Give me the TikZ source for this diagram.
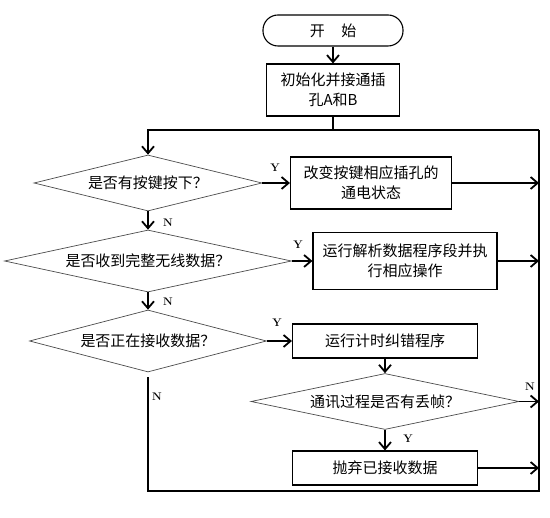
\documentclass[tikz,border=0pt]{standalone}
\usepackage{fontspec}
\newfontfamily\cjk{Noto Sans CJK SC}
\usetikzlibrary{shapes.geometric,arrows.meta}
\begin{document}
\begin{tikzpicture}[x=1pt,y=-1pt,
    stepbox/.style={draw,line width=1.1pt,inner sep=0pt,align=center,font=\cjk\fontsize{15pt}{20pt}\selectfont},
    startbox/.style={stepbox,rounded corners=15pt},
    decision/.style={diamond,draw=black!70,line width=0.7pt,inner sep=0pt,font=\cjk\fontsize{15pt}{20pt}\selectfont},
    link/.style={line width=1.8pt},
    flow/.style={link,-{Straight Barb[length=7pt,width=12pt]}},
    yn/.style={inner sep=0pt,font=\bfseries\fontsize{11pt}{12pt}\selectfont}]
    \newcommand{\loopl}{148}
    \newcommand{\loopr}{539}
    \useasboundingbox[fill=white] (0,0) rectangle (550,518);

    \node[startbox,minimum width=140pt,minimum height=31pt] (start) at (333,30.5) {开\hspace{1.1em}始};
    \node[stepbox,minimum width=133pt,minimum height=52pt] (init) at (333,90) {初始化并接通插\\孔A和B};

    \node[decision,minimum width=228pt,minimum height=56pt,aspect=4.07] (key) at (\loopl,183) {是否有按键按下？};
    \node[stepbox,minimum width=161pt,minimum height=52pt] (power) at (371,183) {改变按键相应插孔的\\通电状态};

    \node[decision,minimum width=287pt,minimum height=62pt,aspect=4.63] (radio) at (\loopl,261) {是否收到完整无线数据？};
    \node[stepbox,minimum width=184pt,minimum height=57pt] (parse) at (405,261) {运行解析数据程序段并执\\行相应操作};

    \node[decision,minimum width=237pt,minimum height=62pt,aspect=3.82] (recv) at (\loopl,341) {是否正在接收数据？};
    \node[stepbox,minimum width=185pt,minimum height=34pt] (timer) at (385,341) {运行计时纠错程序};

    \node[decision,minimum width=268pt,minimum height=56pt,aspect=4.79] (lost) at (385,401.5) {通讯过程是否有丢帧？};
    \node[stepbox,minimum width=185pt,minimum height=34pt] (drop) at (385,468) {抛弃已接收数据};

    \coordinate (tl) at (\loopl,130);
    \coordinate (tr) at (\loopr,130);
    \coordinate (bl) at (\loopl,491);
    \coordinate (br) at (\loopr,491);

    \draw[flow] (start) -- (init);
    \draw[link] (init.south) -- (init.south |- tl);
    \draw[flow] (tr) -- (tl) -- (key.north);
    \draw[link,shorten <=5pt] (recv.south) -- (bl) -- (br) -- (tr);

    \draw[flow] (key.east) -- (power.west);
    \draw[flow] (power.east) -- (power.east -| tr);
    \draw[flow] (key.south) -- (radio.north);
    \draw[flow] (radio.east) -- (parse.west);
    \draw[flow] (parse.east) -- (parse.east -| tr);
    \draw[flow] (radio.south) -- (recv.north);
    \draw[flow] (recv.east) -- (timer.west);
    \draw[flow] (timer.south) -- (lost.north);
    \draw[flow] (lost.east) -- (lost.east -| tr);
    \draw[flow] (lost.south) -- (drop.north);
    \draw[flow] (drop.east) -- (drop.east -| tr);

    \node[yn] (y1) at (275,168) {Y};
    \node[yn] (n1) at (168,223) {N};
    \node[yn] (y2) at (298,245) {Y};
    \node[yn] (n2) at (168,302) {N};
    \node[yn] (y3) at (277,323) {Y};
    \node[yn] (n3) at (157,397) {N};
    \node[yn] (n4) at (530,387) {N};
    \node[yn] (y4) at (408,439) {Y};
\end{tikzpicture}
\end{document}
